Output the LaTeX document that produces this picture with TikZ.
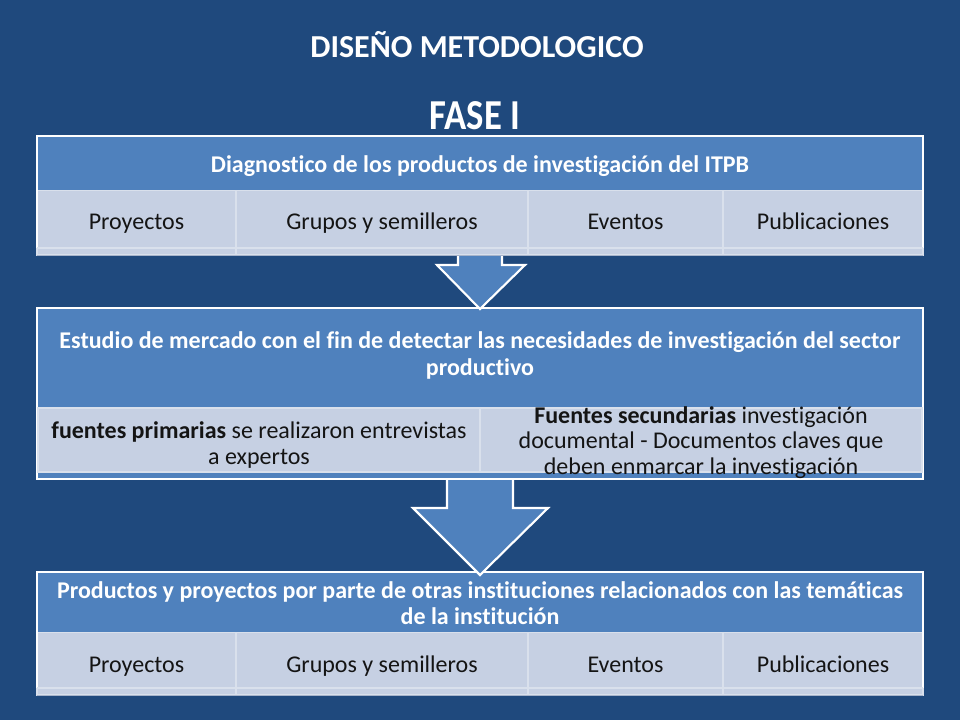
\documentclass[tikz,border=0pt]{standalone}
\usepackage{fontspec}
\setmainfont{Carlito}[Ligatures=NoCommon]
\definecolor{bg}{HTML}{1F497D}
\definecolor{hdr}{HTML}{4F81BD}
\definecolor{cell}{HTML}{C6D0E3}
\definecolor{cellline}{HTML}{D9E0EC}
\definecolor{shadowline}{HTML}{A7B4CB}
\definecolor{ink}{HTML}{141414}
\tikzset{
  x=0.75pt, y=-0.75pt,
  hdrfill/.style={fill=hdr},
  whiteframe/.style={draw=white, line width=1.6pt, line join=miter},
  cellbox/.style={fill=cell, draw=cellline, line width=0.9pt},
  htext/.style={text=white, font=\bfseries\fontsize{18}{20}\selectfont, align=center, inner sep=0pt},
  ctext/.style={text=ink, font=\fontsize{18}{19}\selectfont, align=center, inner sep=0pt},
  titletext/.style={text=white, font=\bfseries\fontsize{24}{28}\selectfont, inner sep=0pt},
  fasetext/.style={text=white, font=\bfseries\fontsize{32}{36}\selectfont, inner sep=0pt},
  blockarrow/.style={fill=hdr, draw=white, line width=1.6pt, line join=miter},
}
\begin{document}
\begin{tikzpicture}
\fill[bg] (0,0) rectangle (960,720);
\useasboundingbox (0,0) rectangle (960,720);

% ---------- bottom panel ----------
\foreach \a/\b in {37/236,236/528,528/723,723/923}{
  \draw[cellbox] (\a,632) rectangle (\b,695);
}
\draw[shadowline, line width=0.8pt] (37,695.5) -- (923,695.5);
\fill[hdr] (37,572) rectangle (923,632);
\draw[whiteframe] (37,688) -- (37,572) -- (923,572) -- (923,688);
\draw[cellline, line width=0.9pt] (37,688) -- (923,688);

% ---------- arrow 2 ----------
\draw[blockarrow] (447,470) -- (447,508) -- (413,508) -- (480,575) -- (548,508) -- (513,508) -- (513,470) -- cycle;

% ---------- middle panel ----------
\draw[whiteframe, hdrfill] (37,308) rectangle (923,479);
\draw[cellbox] (38,408) rectangle (480,472);
\draw[cellbox] (480,408) rectangle (922,472);

% ---------- arrow 1 ----------
\draw[blockarrow] (458,240) -- (458,265) -- (437,265) -- (480,309) -- (525,265) -- (502,265) -- (502,240) -- cycle;

% ---------- top panel ----------
\foreach \a/\b in {37/236,236/528,528/723,723/923}{
  \draw[cellbox] (\a,190) rectangle (\b,255);
}
\draw[shadowline, line width=0.8pt] (37,255.5) -- (923,255.5);
\fill[hdr] (37,136) rectangle (923,190);
\draw[whiteframe] (37,248) -- (37,136) -- (923,136) -- (923,248);
\draw[cellline, line width=0.9pt] (37,248) -- (923,248);

% ---------- texts ----------
\node[titletext, anchor=base] (title) at (477,58) {DISEÑO METODOLOGICO};
\node[fasetext, anchor=base] (fase) at (475,130) {\scalebox{0.86}[1]{FASE I}};

\node[htext, anchor=base] (h1) at (480,173) {Diagnostico de los productos de investigación del ITPB};
\node[ctext, anchor=base] (c11) at (136.5,230) {Proyectos};
\node[ctext, anchor=base] (c12) at (382,230) {Grupos y semilleros};
\node[ctext, anchor=base] (c13) at (625.5,230) {Eventos};
\node[ctext, anchor=base] (c14) at (823,230) {Publicaciones};

\node[htext] (h2) at (480,355.5) {Estudio de mercado con el fin de detectar las necesidades de investigación del sector\\productivo};
\node[ctext] (c21) at (259,445) {\textbf{fuentes primarias} se realizaron entrevistas\\a expertos};
\node[ctext] (c22) at (701,442.5) {\textbf{Fuentes secundarias} investigación\\documental - Documentos claves que\\deben enmarcar la investigación};

\node[htext] (h3) at (480,603) {Productos y proyectos por parte de otras instituciones relacionados con las temáticas\\de la institución};
\node[ctext, anchor=base] (c31) at (136.5,672) {Proyectos};
\node[ctext, anchor=base] (c32) at (382,672) {Grupos y semilleros};
\node[ctext, anchor=base] (c33) at (625.5,672) {Eventos};
\node[ctext, anchor=base] (c34) at (823,672) {Publicaciones};
\end{tikzpicture}
\end{document}
